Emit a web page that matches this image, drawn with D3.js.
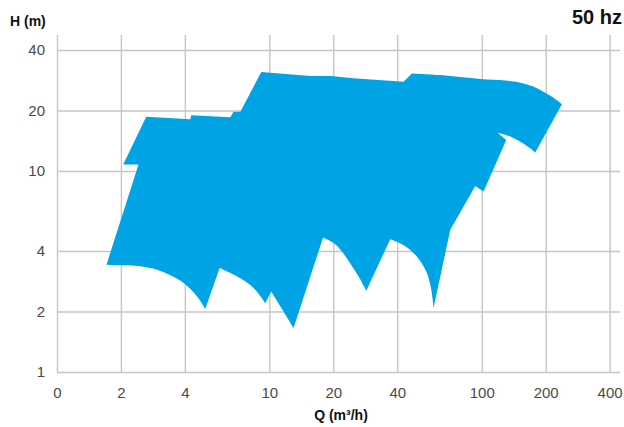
<!DOCTYPE html>
<html>
<head>
<meta charset="utf-8">
<script src="https://cdn.jsdelivr.net/npm/d3@7"></script>
<style>
  body { margin: 0; background: #fff; }
  svg { display: block; font-family: "Liberation Sans", Arial, Helvetica, sans-serif; }
  .grid line { stroke: #c6c6c6; stroke-width: 1.4; }
  .grid .domain { display: none; }
  .axis .domain { display: none; }
  .axis text { fill: #4a4a4a; font-size: 15px; }
</style>
</head>
<body>
<svg id="chart"></svg>
<script>
// tick values (log axes)
const qTicks = [1, 2, 4, 10, 20, 40, 100, 200, 400];
const qTickLabels = ["0", "2", "4", "10", "20", "40", "100", "200", "400"];
const hTicks = [1, 2, 4, 10, 20, 40];

// outline of the pump working range (Q m3/h, H m)
const rangeQ = [1.71, 2.42, 2.05, 2.63, 4.24, 4.29, 6.55, 6.78, 7.30, 9.16,
  10.1, 15.6, 19.4, 24.9, 42.8, 46.9, 63.8, 98.4, 129, 152, 175, 195, 217, 238.5,
  178.6, 169.2, 151.8, 136.2, 118.7, 130.4, 102, 93.2, 71.1,
  59.3, 57.85, 55.2, 50.8, 46.1, 41.3, 37.1,
  28.6, 26.2, 24.0, 22.0, 20.1, 17.9,
  13.0, 10.2, 9.56, 8.43, 7.30, 5.83,
  4.99, 4.56, 3.95, 3.42, 2.96, 2.47, 1.99];
const rangeH = [3.42, 10.76, 10.76, 18.64, 18.09, 18.94, 18.51, 19.73, 19.73, 31.1,
  30.8, 29.7, 29.7, 28.9, 27.8, 30.6, 30.0, 28.7, 28.2, 27.5, 26.3, 24.8, 23.2, 21.5,
  12.35, 12.98, 14.0, 14.86, 15.52, 14.27, 7.90, 8.43, 5.10,
  2.08, 2.57, 3.11, 3.62, 4.05, 4.37, 4.58,
  2.54, 3.01, 3.48, 3.96, 4.38, 4.67,
  1.655, 2.515, 2.20, 2.62, 2.93, 3.29,
  2.06, 2.38, 2.77, 3.03, 3.23, 3.36, 3.40];
// index runs of the outline that are curves (impeller curves), the rest is straight
const curvedRuns = [[15, 23], [24, 28], [33, 39], [40, 45], [48, 51], [52, 58]];

class pumpChart {
    constructor(_config) {
        this.config = {
            parentElement: _config.parentElement,
            containerWidth: _config.containerWidth || 624,
            containerHeight: _config.containerHeight || 427,
            margin: _config.margin || {top: 35, right: 2, bottom: 55, left: 57}
        }
        this.data = rangeQ.map((q, i) => ({q: q, h: rangeH[i]}));
        this.initVis();
    }

    initVis() {
        let vis = this;
        vis.width = vis.config.containerWidth - vis.config.margin.left - vis.config.margin.right;
        vis.height = vis.config.containerHeight - vis.config.margin.top - vis.config.margin.bottom;

        vis.svg = d3.select(vis.config.parentElement)
            .attr('width', vis.config.containerWidth)
            .attr('height', vis.config.containerHeight);

        vis.chart = vis.svg.append('g')
            .attr('transform', `translate(${vis.config.margin.left},${vis.config.margin.top})`);

        // last x grid line sits short of the right edge
        vis.xScale = d3.scaleLog()
            .domain([1, 400])
            .range([0, 552.6]);

        // 40 m sits 15px below the top of the grid
        vis.yScale = d3.scaleLog()
            .domain([1, 40])
            .range([vis.height, 15]);

        vis.renderVis();
    }

    // closed outline, straight pieces joined with smooth pieces
    outlinePath() {
        let vis = this;
        const straight = d3.line().x(d => vis.xScale(d.q)).y(d => vis.yScale(d.h));
        const smooth = d3.line().x(d => vis.xScale(d.q)).y(d => vis.yScale(d.h))
            .curve(d3.curveCatmullRom.alpha(0.5));

        let pieces = [];
        let i = 0;
        curvedRuns.forEach(([a, b]) => {
            if (a > i) pieces.push(straight(vis.data.slice(i, a + 1)));
            pieces.push(smooth(vis.data.slice(a, b + 1)));
            i = b;
        });
        pieces.push(straight(vis.data.slice(i).concat([vis.data[0]])));

        return pieces.map((p, k) => k === 0 ? p : 'L' + p.slice(1)).join('') + 'Z';
    }

    renderVis() {
        let vis = this;

        // grid
        vis.chart.append('g')
            .attr('class', 'grid')
            .attr('transform', `translate(0,${vis.height})`)
            .call(d3.axisBottom(vis.xScale).tickValues(qTicks).tickFormat('').tickSize(-vis.height));

        vis.chart.append('g')
            .attr('class', 'grid')
            .call(d3.axisLeft(vis.yScale).tickValues(hTicks).tickFormat('').tickSize(-vis.width + 2));

        // working range
        vis.chart.append('path')
            .attr('d', vis.outlinePath())
            .attr('fill', '#00a4e4');

        // tick labels
        vis.chart.append('g')
            .attr('class', 'axis x-axis')
            .attr('transform', `translate(0,${vis.height})`)
            .call(d3.axisBottom(vis.xScale)
                .tickValues(qTicks)
                .tickFormat((d, i) => qTickLabels[i])
                .tickSize(0)
                .tickPadding(15));

        vis.chart.append('g')
            .attr('class', 'axis y-axis')
            .call(d3.axisLeft(vis.yScale)
                .tickValues(hTicks)
                .tickFormat(d3.format('d'))
                .tickSize(0)
                .tickPadding(12));

        // titles
        vis.svg.append('text')
            .attr('x', 10)
            .attr('y', 26)
            .attr('font-size', 14)
            .attr('font-weight', 'bold')
            .attr('fill', '#111')
            .text('H (m)');

        vis.svg.append('text')
            .attr('x', 341)
            .attr('y', 420)
            .attr('text-anchor', 'middle')
            .attr('font-size', 14)
            .attr('font-weight', 'bold')
            .attr('fill', '#111')
            .text('Q (m³/h)');

        vis.svg.append('text')
            .attr('x', 622)
            .attr('y', 24)
            .attr('text-anchor', 'end')
            .attr('font-size', 20)
            .attr('font-weight', 'bold')
            .attr('fill', '#111')
            .text('50 hz');
    }
}

new pumpChart({parentElement: '#chart'});
</script>
</body>
</html>
